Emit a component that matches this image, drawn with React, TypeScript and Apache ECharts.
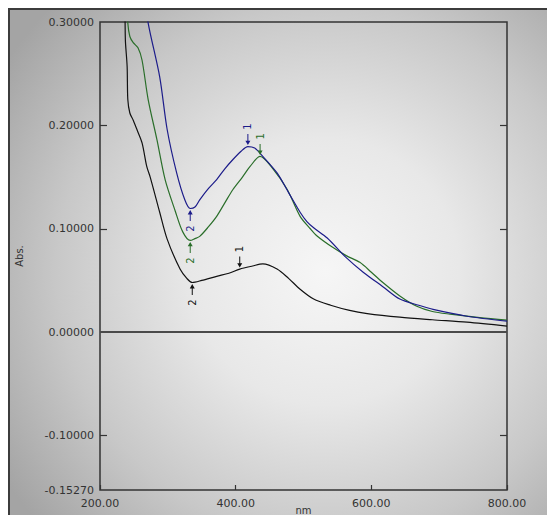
import React, { useEffect, useRef } from "react";
import * as echarts from "echarts";

// wavelength (nm), absorbance
const blueX = [262, 271, 288, 299, 313, 325, 333, 340, 347, 360, 372, 384, 396, 408, 418, 428, 440, 461, 478, 495, 505, 515, 535, 561, 588, 617, 642, 670, 691, 741, 800];
const blueY = [0.34, 0.299, 0.247, 0.196, 0.154, 0.128, 0.1196, 0.121, 0.128, 0.139, 0.1476, 0.158, 0.167, 0.175, 0.1795, 0.178, 0.170, 0.154, 0.135, 0.116, 0.107, 0.101, 0.091, 0.0733, 0.058, 0.044, 0.032, 0.026, 0.022, 0.0154, 0.0106];

const greenX = [238, 241, 244, 249, 256, 262, 271, 284, 296, 311, 322, 333, 340, 347, 360, 372, 384, 396, 410, 421, 436, 455, 476, 495, 510, 520, 543, 563, 583, 600, 617, 642, 667, 690, 716, 760, 800];
const greenY = [0.34, 0.299, 0.286, 0.280, 0.275, 0.263, 0.225, 0.186, 0.1476, 0.117, 0.097, 0.0887, 0.0905, 0.0926, 0.102, 0.112, 0.125, 0.138, 0.150, 0.160, 0.170, 0.158, 0.138, 0.112, 0.100, 0.093, 0.082, 0.074, 0.0675, 0.058, 0.048, 0.035, 0.025, 0.020, 0.0174, 0.014, 0.0116];

const blackX = [236, 237, 237.5, 240, 241, 244, 249, 255, 262, 269, 274, 288, 299, 318, 328, 336, 350, 372, 390, 406, 425, 440, 461, 478, 495, 515, 540, 568, 594, 642, 690, 741, 800];
const blackY = [0.34, 0.299, 0.281, 0.257, 0.225, 0.212, 0.205, 0.195, 0.183, 0.160, 0.150, 0.116, 0.090, 0.061, 0.052, 0.048, 0.050, 0.054, 0.057, 0.061, 0.064, 0.066, 0.061, 0.052, 0.0415, 0.032, 0.026, 0.021, 0.018, 0.0145, 0.012, 0.0096, 0.0058];

// peak / valley markers: [nm, abs, label, direction]
const blueMarks: [number, number, string, string][] = [[418, 0.1795, "1", "down"], [333, 0.1196, "2", "up"]];
const greenMarks: [number, number, string, string][] = [[436, 0.170, "1", "down"], [333, 0.0887, "2", "up"]];
const blackMarks: [number, number, string, string][] = [[406, 0.061, "1", "down"], [336, 0.048, "2", "up"]];

const yLabels = [0.3, 0.2, 0.1, 0, -0.1, -0.1527];
const yInnerTicks = [0.2, 0.1, -0.1];
const xLabels = [200, 400, 600, 800];

const ARROW_DOWN = "path://M4,0 L6,0 L6,9 L10,9 L5,15 L0,9 L4,9 Z";
const ARROW_UP = "path://M5,0 L10,6 L6,6 L6,15 L4,15 L4,6 L0,6 Z";

const FONT = "DejaVu Sans";

function zip(xs: number[], ys: number[]) {
  return xs.map((x, i) => [x, ys[i]]);
}

function marks(list: [number, number, string, string][], color: string) {
  return {
    silent: true,
    animation: false,
    data: list.map(([x, y, lab, dir]) => ({
      coord: [x, y],
      symbol: dir === "down" ? ARROW_DOWN : ARROW_UP,
      symbolSize: [5, 11],
      symbolOffset: [0, dir === "down" ? -7 : 7],
      itemStyle: { color },
      label: {
        show: true,
        formatter: lab,
        position: "inside",
        offset: [dir === "down" ? 13 : -13, 0],
        rotate: 90,
        color,
        fontSize: 10,
        fontFamily: FONT,
      },
    })),
  };
}

export default function App() {
  const ref = useRef<HTMLDivElement>(null);
  useEffect(() => {
    document.documentElement.style.overflow = "hidden";
    document.body.style.overflow = "hidden";
    const chart = echarts.init(ref.current!, null, { renderer: "svg" });
    const tickStyle = { color: "#333", width: 1.2 };
    chart.setOption({
      animation: false,
      grid: {
        left: 92,
        top: 14,
        width: 407,
        height: 468,
        show: true,
        borderColor: "#333",
        borderWidth: 1.5,
        backgroundColor: "transparent",
        containLabel: false,
        outerBoundsMode: "none",
      },
      xAxis: {
        type: "value",
        min: 200,
        max: 800,
        interval: 200,
        name: "nm",
        nameLocation: "middle",
        nameGap: 15,
        nameMoveOverlap: false,
        nameTextStyle: { color: "#333", fontSize: 10, fontFamily: FONT, verticalAlign: "top" },
        axisLine: { show: false, onZero: false },
        axisTick: { show: true, inside: true, length: 5, lineStyle: tickStyle },
        splitLine: { show: false },
        axisLabel: {
          color: "#333",
          fontSize: 11,
          fontFamily: FONT,
          margin: 8,
          customValues: xLabels,
          formatter: (v: number) => v.toFixed(2),
        },
      },
      yAxis: [
        {
          type: "value",
          min: -0.1527,
          max: 0.3,
          name: "Abs.",
          nameLocation: "middle",
          nameGap: 76,
          nameMoveOverlap: false,
          nameTextStyle: { color: "#333", fontSize: 10, fontFamily: FONT },
          axisLine: { show: false },
          splitLine: { show: false },
          axisTick: { show: true, inside: true, length: 7, customValues: yInnerTicks, lineStyle: tickStyle },
          axisLabel: {
            color: "#333",
            fontSize: 11,
            fontFamily: FONT,
            margin: 6,
            customValues: yLabels,
            formatter: (v: number) => v.toFixed(5),
          },
        },
        {
          type: "value",
          position: "right",
          min: -0.1527,
          max: 0.3,
          axisLine: { show: false },
          splitLine: { show: false },
          axisLabel: { show: false },
          axisTick: { show: true, inside: true, length: 7, customValues: yInnerTicks, lineStyle: tickStyle },
        },
      ],
      series: [
        {
          type: "line",
          data: zip(blackX, blackY),
          symbol: "none",
          smooth: 0.3,
          lineStyle: { color: "#111", width: 1.2 },
          markPoint: marks(blackMarks, "#111"),
          markLine: {
            silent: true,
            symbol: "none",
            label: { show: false },
            lineStyle: { color: "#4a4a4a", width: 2, type: "solid" },
            data: [{ yAxis: 0 }],
          },
        },
        {
          type: "line",
          data: zip(greenX, greenY),
          symbol: "none",
          smooth: 0.3,
          lineStyle: { color: "#2a6e2a", width: 1.2 },
          markPoint: marks(greenMarks, "#2a6e2a"),
        },
        {
          type: "line",
          data: zip(blueX, blueY),
          symbol: "none",
          smooth: 0.3,
          lineStyle: { color: "#1c1c8a", width: 1.2 },
          markPoint: marks(blueMarks, "#1c1c8a"),
        },
      ],
    });
    return () => chart.dispose();
  }, []);
  return (
    <div
      style={{
        width: 547,
        height: 507,
        background:
          "radial-gradient(ellipse 70% 75% at 58% 52%, #f6f6f6 0%, #e8e8e8 35%, #c8c8c8 70%, #a4a4a4 100%)",
        boxShadow: "inset 2px 2px 0 #3c3c3c",
      }}
    >
      <div ref={ref} style={{ width: 547, height: 507 }} />
    </div>
  );
}
